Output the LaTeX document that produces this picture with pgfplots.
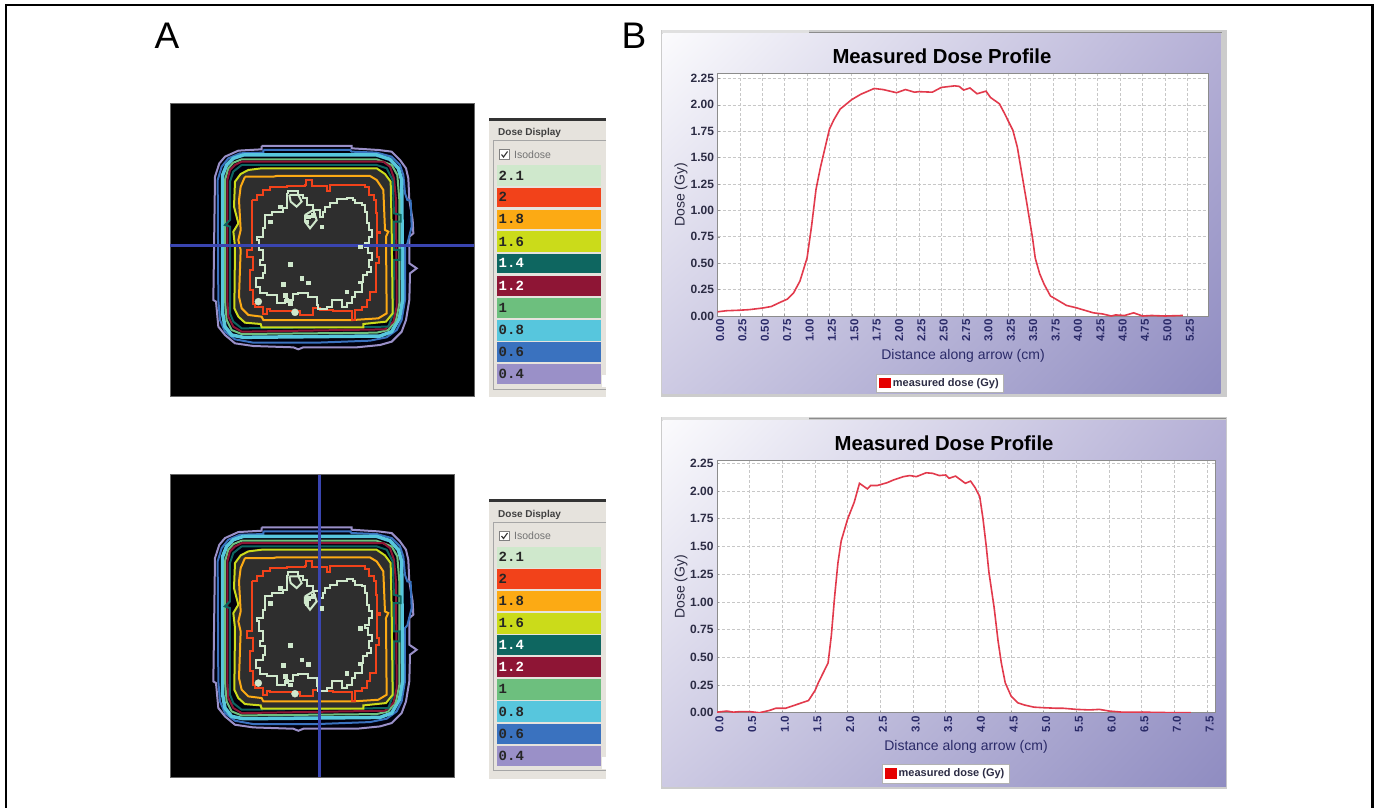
\documentclass[border=0pt]{standalone}
\usepackage{pgfplots}
\pgfplotsset{compat=1.18}
\usepackage{pgfplotstable}
\usetikzlibrary{shadings}
\usepackage{fontspec}
\setmainfont{Liberation Sans}
\newfontfamily\monof{Liberation Mono}
\definecolor{c21}{HTML}{CFE8CC}
\definecolor{c20}{HTML}{F2421A}
\definecolor{c18}{HTML}{FCAA14}
\definecolor{c16}{HTML}{CBDB1A}
\definecolor{c14}{HTML}{0E6660}
\definecolor{c12}{HTML}{8E1535}
\definecolor{c10}{HTML}{6DBF7E}
\definecolor{c08}{HTML}{57C6DD}
\definecolor{c06}{HTML}{3A72BF}
\definecolor{c04}{HTML}{9A90C8}
\definecolor{scan}{HTML}{3A45B0}
\definecolor{navy}{HTML}{2A2A68}
\definecolor{ticky}{HTML}{2C2C44}
\definecolor{lred}{HTML}{E23A4C}
\definecolor{panelbg}{HTML}{E6E3DD}
\definecolor{wa}{HTML}{FBFBFD}
\definecolor{wb}{HTML}{B5B0D6}
\definecolor{wc}{HTML}{CDCAE3}
\definecolor{wd}{HTML}{8F8CC1}

% Chart data
\pgfplotstableread{
x y
0.00 0.04
0.10 0.05
0.25 0.055
0.35 0.06
0.50 0.075
0.60 0.09
0.70 0.13
0.78 0.16
0.85 0.22
0.92 0.33
1.00 0.55
1.05 0.85
1.10 1.20
1.15 1.41
1.25 1.77
1.30 1.86
1.37 1.96
1.50 2.05
1.60 2.10
1.75 2.155
1.85 2.145
2.00 2.115
2.10 2.145
2.20 2.12
2.25 2.125
2.40 2.12
2.50 2.165
2.65 2.18
2.70 2.175
2.75 2.14
2.82 2.16
2.90 2.105
3.00 2.13
3.05 2.07
3.15 2.01
3.20 1.93
3.30 1.76
3.35 1.60
3.40 1.35
3.45 1.10
3.52 0.74
3.55 0.55
3.60 0.40
3.65 0.30
3.72 0.19
3.80 0.15
3.90 0.10
4.00 0.08
4.10 0.055
4.20 0.03
4.30 0.02
4.40 0.00
4.45 0.01
4.55 0.005
4.65 0.03
4.75 0.00
4.85 0.005
5.00 0.00
5.20 0.005
}\profA
\pgfplotstableread{
x y
0.00 0.005
0.15 0.015
0.25 0.005
0.35 0.01
0.50 0.01
0.65 0.00
0.80 0.02
0.90 0.04
1.05 0.04
1.20 0.07
1.30 0.09
1.40 0.11
1.50 0.20
1.55 0.27
1.70 0.45
1.75 0.70
1.80 1.05
1.85 1.35
1.90 1.55
2.00 1.75
2.10 1.90
2.18 2.07
2.30 2.02
2.35 2.05
2.45 2.05
2.60 2.075
2.70 2.10
2.85 2.13
2.95 2.14
3.05 2.13
3.20 2.165
3.30 2.16
3.40 2.14
3.50 2.145
3.55 2.115
3.65 2.135
3.80 2.07
3.88 2.09
3.95 2.03
4.02 1.95
4.07 1.75
4.12 1.50
4.16 1.27
4.24 0.95
4.30 0.65
4.35 0.45
4.41 0.27
4.50 0.15
4.60 0.09
4.70 0.07
4.85 0.05
5.00 0.045
5.20 0.04
5.30 0.04
5.50 0.03
5.70 0.025
5.85 0.03
6.00 0.015
6.20 0.005
6.50 0.005
7.00 0.00
7.25 0.00
}\profB

% Isodose contours (image pixels)
\pgfplotstableread{
x y
275 138
545 138
545 145
625 150
665 155
690 180
708 205
715 235
718 300
728 360
730 400
718 410
718 490
740 505
720 520
718 600
708 660
695 695
665 725
630 735
560 742
400 742
385 748
370 742
250 738
195 730
165 705
145 680
138 605
130 600
135 230
148 190
165 170
205 152
275 148
275 138
}\cA
\pgfplotstableread{
x y
280 150
540 150
545 155
620 158
665 170
690 195
700 225
705 280
712 300
722 302
725 380
712 432
705 440
705 600
695 660
680 690
650 712
600 722
440 728
250 728
195 718
165 695
150 660
145 600
143 240
155 200
175 175
210 160
280 158
280 150
}\cB
\pgfplotstableread{
x y
220 165
620 165
660 178
685 205
695 240
698 600
688 655
665 695
630 708
220 712
185 705
165 680
158 640
158 225
170 195
190 175
220 165
}\cC
\pgfplotstableread{
x y
215 178
620 178
665 195
682 225
688 300
688 610
678 660
655 690
620 698
215 702
185 690
170 660
165 600
165 240
175 205
190 188
215 178
}\cD
\pgfplotstableread{
x y
215 185
640 185
660 200
672 235
678 300
680 620
670 665
645 688
215 695
190 680
175 650
172 600
172 240
180 210
195 195
215 185
}\cE
\pgfplotstableread{
x y
215 195
620 195
650 205
668 240
672 340
692 345
692 365
672 365
672 450
690 450
690 480
672 480
670 640
655 680
215 685
190 665
180 640
180 380
165 375
180 360
180 245
190 215
215 195
}\cF
\pgfplotstableread{
x y
275 205
620 205
645 222
662 245
665 380
668 640
648 665
580 672
580 682
275 682
272 672
225 668
205 650
193 625
195 440
190 395
205 370
192 320
195 245
212 222
235 210
275 205
}\cG
\pgfplotstableread{
x y
225 230
310 230
320 228
600 228
620 240
640 270
645 390
655 395
648 410
650 640
625 655
550 660
280 660
275 650
235 645
215 625
207 590
212 450
205 420
212 390
207 300
212 260
225 230
}\cH
\pgfplotstableread{
x y
245 300
260 285
280 270
300 260
350 258
405 255
408 240
425 240
425 258
465 258
470 272
480 255
585 262
598 285
612 300
618 340
622 395
630 400
622 470
628 490
618 530
618 575
600 600
590 620
575 630
555 660
545 632
490 630
450 625
430 645
390 632
300 628
292 642
278 620
255 612
250 570
240 510
248 470
232 450
245 430
245 300
}\cI
\pgfplotstableread{
x y
350 280
355 272
375 272
385 285
400 295
410 315
425 315
430 330
445 330
450 350
458 335
465 320
480 310
500 298
530 293
550 300
555 310
575 315
585 335
590 370
598 390
605 410
598 430
585 440
595 460
605 480
598 500
603 515
590 525
580 545
568 550
575 575
555 590
545 610
530 620
515 600
495 600
485 620
470 628
445 615
440 590
415 578
385 582
370 600
345 610
320 585
290 578
270 560
258 535
280 520
285 495
270 480
278 450
268 420
260 410
280 385
285 345
305 335
340 325
352 305
350 280
}\cJ
\pgfplotstableread{
x y
358 285
385 285
395 305
380 320
362 305
358 285
}\cK
\pgfplotstableread{
x y
405 345
430 330
440 360
420 385
405 365
405 345
}\cL
\pgfplotstableread{
x y
455 380
360 492
415 548
395 535
340 552
570 440
530 575
330 320
300 365
415 350
410 365
430 345
350 600
360 610
345 585
}\cM
\pgfplotstableread{
x y
265 605
375 637
}\cN

\newcommand{\contours}{%
  \addplot[draw=c04,line width=2pt,fill=black!95!blue] table {\cA};
  \addplot[draw=c06,line width=2pt] table {\cB};
  \addplot[draw=c08,line width=3.5pt] table {\cC};
  \addplot[draw=c10,line width=2pt] table {\cD};
  \addplot[draw=c12,line width=2pt] table {\cE};
  \addplot[draw=c14,line width=2pt] table {\cF};
  \addplot[draw=c16,line width=2pt,fill=black!82] table {\cG};
  \addplot[draw=c18,line width=2pt] table {\cH};
  \addplot[const plot,draw=c20,line width=2pt] table {\cI};
  \addplot[const plot,draw=c21,line width=2pt] table {\cJ};
  \addplot[draw=c21,line width=2pt] table {\cK};
  \addplot[draw=c21,line width=2pt] table {\cL};
  \addplot[only marks,mark=square*,mark size=1.8pt,c21,mark options={draw=c21,fill=c21}] table {\cM};
  \addplot[only marks,mark=*,mark size=3.5pt,c21,mark options={draw=c21,fill=c21}] table {\cN};
}
\pgfplotsset{
  img/.style={
    scale only axis,anchor=north west,ticks=none,
    axis line style={draw=black!60,line width=0.6pt},
    axis background/.style={fill=black},
    y dir=reverse,
  },
  prof/.style={
    scale only axis,anchor=north west,
    axis background/.style={fill=white},
    axis line style={draw=black!45,line width=1pt},
    xtick pos=bottom, ytick pos=left,
    ymin=0,
    ytick={0,0.25,...,2.25},
    grid=major,
    grid style={densely dashed,black!22,line width=0.7pt},
    tick style={draw=black!40,line width=0.6pt},
    major tick length=2pt,
    tick label style={font=\fontsize{12}{13}\selectfont,/pgf/number format/assume math mode=true},
    xticklabel style={rotate=90,anchor=east,yshift=-2.5pt,text=navy,font=\fontsize{11.5}{13}\bfseries\selectfont},
    yticklabel style={text=ticky,font=\fontsize{12}{13}\bfseries\selectfont,xshift=0pt},
    y tick label style={/pgf/number format/.cd,fixed,fixed zerofill,precision=2},
    title style={font=\fontsize{20.3}{22}\bfseries\selectfont,anchor=center,text=black},
    xlabel style={font=\fontsize{14}{16}\selectfont,text=navy,anchor=center},
    ylabel style={font=\fontsize{14}{16}\selectfont,text=ticky,anchor=center,rotate=0},
    legend image code/.code={\fill[red!90!black] (0pt,-4.5pt) rectangle (10.5pt,4.5pt);},
    legend style={font=\fontsize{11}{12}\bfseries\selectfont,draw=black!30,fill=white,
      text=ticky,inner sep=2.5pt,row sep=0pt,anchor=center,cells={anchor=west}},
  },
}
% Dose display panel: #1 is the vertical offset in pixels
\newcommand{\dosepanel}[1]{%
  \begin{scope}[yshift=-#1pt]
    \fill[panelbg] (489,-118) rectangle (606,-397);
    \fill[black!80] (489,-117.5) rectangle (606,-120.5);
    \draw[black!35,line width=0.7pt] (606,-140.5) -- (493,-140.5) -- (493,-389) -- (606,-389);
    \node[anchor=west,inner sep=0pt,text=black!75] at (498,-133)
      {\fontsize{10}{12}\bfseries\selectfont Dose Display};
    \draw[black!50,fill=white,line width=0.6pt] (499.5,-149.5) rectangle (509,-159);
    \draw[black!80,line width=1.1pt] (501.5,-154.5) -- (503.5,-157) -- (507.5,-151.5);
    \node[anchor=west,inner sep=0pt,text=black!55] at (514,-154.5)
      {\fontsize{10.5}{12}\selectfont Isodose};
    \foreach \ya/\yb/\c/\t/\l in {
      165/186/c21/black!85/2.1,
      187.5/207/c20/black!85/2,
      209.5/229/c18/black!85/1.8,
      231/252/c16/black!85/1.6,
      253.5/273/c14/white/1.4,
      275.5/295.5/c12/white/1.2,
      297.5/318/c10/black!85/1,
      319.5/340.5/c08/black!85/0.8,
      342/362/c06/black!85/0.6,
      364/384/c04/black!85/0.4}{%
      \fill[\c] (496.7,-\ya) rectangle (601,-\yb);
      \node[anchor=west,inner sep=0pt,text=\t] at (498.5,{-(\ya+\yb)/2})
        {\fontsize{14}{16}\monof\bfseries\selectfont \l};
    }
    \fill[white] (602,-375) rectangle (606,-387);
  \end{scope}
}
\begin{document}
\begin{tikzpicture}[x=1pt,y=1pt]
\path[use as bounding box,fill=white] (0,0) rectangle (1378,-808);
% frame
\draw[black,line width=2.4pt] (6,-808) -- (6,-5) -- (1372.5,-5) -- (1372.5,-808);
\node[inner sep=0pt,anchor=center] at (167,-36) {\fontsize{37}{40}\selectfont A};
\node[inner sep=0pt,anchor=center] at (634,-36) {\fontsize{37}{40}\selectfont B};

% Panel A, upper image
\begin{axis}[img,at={(170pt,-103.3pt)},width=304pt,height=292.7pt,
  xmin=0,xmax=912,ymin=10,ymax=888]
  \contours
  \addplot[draw=scan,line width=3pt] coordinates {(0,438) (912,438)};
\end{axis}
% Panel A, lower image
\begin{axis}[img,at={(170pt,-474.7pt)},width=284.3pt,height=302.7pt,
  xmin=0,xmax=853,ymin=-20,ymax=888]
  \contours
  \addplot[draw=scan,line width=3pt] coordinates {(448,-20) (448,888)};
\end{axis}
\dosepanel{0}
\dosepanel{381.5}

% Panel B, upper window
\fill[black!20] (661,-30) rectangle (1226.5,-396.5);
\shade[upper left=wa,upper right=wb,lower left=wc,lower right=wd] (662.5,-34) rectangle (1220.5,-393.5);
\fill[black!12] (662,-30) rectangle (809,-33);
\draw[black!45,line width=0.6pt] (809,-32) -- (1222,-32);
\begin{axis}[prof,at={(717.6pt,-73.5pt)},width=490.9pt,height=242.5pt,
  xmin=0,xmax=5.487,ymax=2.297,
  xtick={0,0.25,...,5.25},
  x tick label style={/pgf/number format/.cd,fixed,fixed zerofill,precision=2},
  title={Measured Dose Profile},
  title style={at={(axis description cs:0.457,1.048)}},
  xlabel={Distance along arrow (cm)},
  xlabel style={at={(axis description cs:0.5,-0.165)}},
  ylabel={Dose (Gy)},
  ylabel style={at={(axis description cs:-0.0745,0.5)}},
  legend style={at={(axis description cs:0.4526,-0.276)}},
]
  \addplot[color=lred,line width=1.6pt] table {\profA};
  \addlegendentry{measured dose (Gy)}
\end{axis}

% Panel B, lower window
\fill[black!20] (661,-417) rectangle (1226.5,-789);
\shade[upper left=wa,upper right=wb,lower left=wc,lower right=wd] (662.5,-420) rectangle (1226,-786);
\fill[black!12] (662,-417) rectangle (809,-419.5);
\draw[black!45,line width=0.6pt] (809,-418) -- (1226,-418);
\begin{axis}[prof,at={(717pt,-460.7pt)},width=498pt,height=252pt,
  xmin=0,xmax=7.62,ymax=2.274,
  xtick={0,0.5,...,7.5},
  x tick label style={/pgf/number format/.cd,fixed,fixed zerofill,precision=1},
  title={Measured Dose Profile},
  title style={at={(axis description cs:0.456,1.046)}},
  xlabel={Distance along arrow (cm)},
  xlabel style={at={(axis description cs:0.5,-0.135)}},
  ylabel={Dose (Gy)},
  ylabel style={at={(axis description cs:-0.0723,0.5)}},
  legend style={at={(axis description cs:0.4588,-0.242)}},
]
  \addplot[color=lred,line width=1.6pt] table {\profB};
  \addlegendentry{measured dose (Gy)}
\end{axis}
\end{tikzpicture}
\end{document}
